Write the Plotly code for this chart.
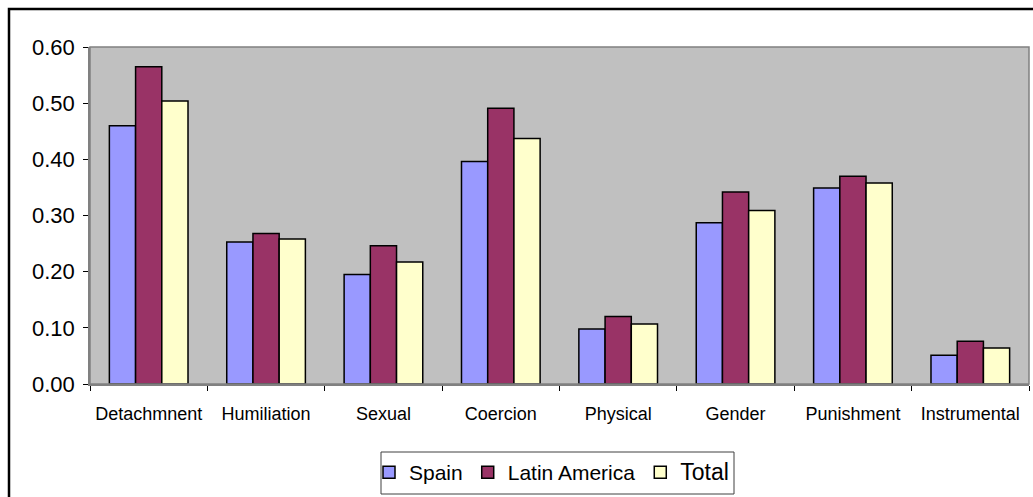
import plotly.graph_objects as go

categories = ["Detachmnent", "Humiliation", "Sexual", "Coercion", "Physical", "Gender", "Punishment", "Instrumental"]
spain = [0.460, 0.253, 0.195, 0.396, 0.098, 0.287, 0.349, 0.051]
latin_america = [0.565, 0.268, 0.246, 0.491, 0.120, 0.342, 0.370, 0.076]
total = [0.504, 0.258, 0.217, 0.437, 0.107, 0.309, 0.358, 0.064]
y_ticks = [0.0, 0.1, 0.2, 0.3, 0.4, 0.5, 0.6]
series_names = ["Spain", "Latin America", "<span style='font-size:23px'>Total</span>"]

W, H = 1033, 497
L, R, T, B = 90, 4, 47, 113
pw, ph = W - L - R, H - T - B

def px(x):
    return (x - L) / pw

def py(y):
    return (H - B - y) / ph

fig = go.Figure()
for name, vals, col in zip(series_names, [spain, latin_america, total],
                           ["#9999FF", "#993366", "#FFFFCC"]):
    fig.add_trace(go.Bar(x=categories, y=vals, name=name,
                         marker=dict(color=col, line=dict(color="black", width=1.5))))

fig.update_layout(
    width=W, height=H,
    margin=dict(l=L, r=R, t=T, b=B),
    paper_bgcolor="white",
    plot_bgcolor="#C0C0C0",
    barmode="group",
    bargap=0.33,
    bargroupgap=0,
    font=dict(family="Liberation Sans, Arial, sans-serif", color="black"),
    showlegend=True,
    legend=dict(orientation="h", x=px(369), y=py(452), xanchor="left", yanchor="top",
                borderwidth=0, bgcolor="rgba(0,0,0,0)",
                font=dict(size=21), traceorder="normal", itemwidth=30),
    xaxis=dict(showline=True, linecolor="#808080", linewidth=1.5,
               ticks="outside", tickson="boundaries", ticklen=5, tickcolor="black",
               tickfont=dict(size=18), ticklabelstandoff=13,
               showgrid=False, zeroline=False, fixedrange=True),
    yaxis=dict(range=[0, 0.6], tickvals=y_ticks, tickformat=".2f",
               showline=True, linecolor="#808080", linewidth=1.5,
               ticks="outside", ticklen=5, tickcolor="black",
               tickfont=dict(size=22), ticklabelstandoff=4,
               showgrid=False, zeroline=False, fixedrange=True),
    shapes=[
        dict(type="rect", xref="paper", yref="paper", x0=0, x1=1, y0=0, y1=1,
             line=dict(color="#808080", width=1.5), layer="above"),
        dict(type="rect", xref="paper", yref="paper",
             x0=px(9), x1=px(1045), y0=py(510), y1=py(9),
             line=dict(color="black", width=2.5)),
        dict(type="rect", xref="paper", yref="paper",
             x0=px(381), x1=px(734), y0=py(494), y1=py(452),
             line=dict(color="#404040", width=1), fillcolor="white", layer="below"),
    ],
)

fig.write_html("out.html")
